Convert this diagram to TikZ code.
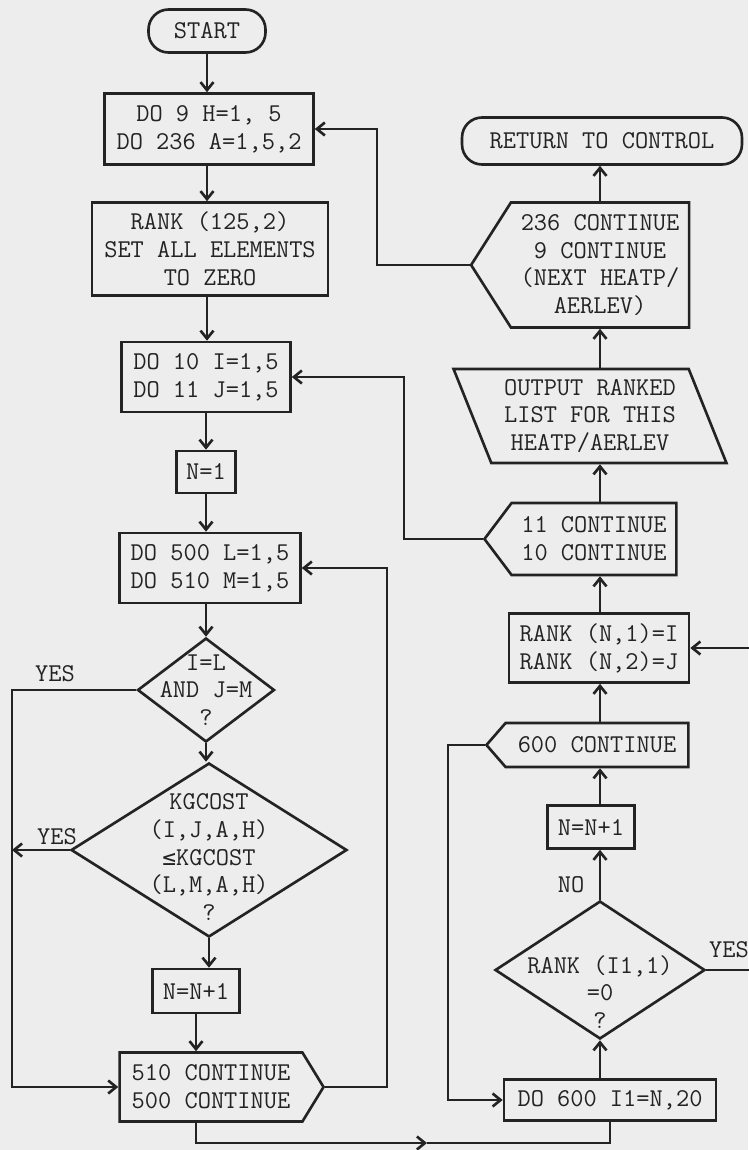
\documentclass[tikz,border=0pt]{standalone}
\usepackage{fontspec}
\newfontfamily\symfont{DejaVu Sans Mono}
\usetikzlibrary{arrows.meta,shapes.geometric,shapes.symbols}
\definecolor{paper}{RGB}{237,237,237}
\definecolor{ink}{RGB}{35,35,35}

\begin{document}
\begin{tikzpicture}[
  x=0.02cm, y=-0.02cm,
  every node/.style={font=\ttfamily\fontsize{14.6}{15.8}\selectfont, text=ink},
  terminal/.style={draw=ink, line width=1.5pt, rounded corners=0.4cm, align=center, inner sep=0pt},
  box/.style={draw=ink, line width=1.5pt, rectangle, align=center, inner sep=0pt},
  decision/.style={draw=ink, line width=1.5pt, diamond, inner sep=0pt},
  loopend/.style={draw=ink, line width=1.5pt, signal, signal from=nowhere, align=center, inner sep=0pt},
  io/.style={draw=ink, line width=1.5pt, trapezium, trapezium left angle=114, trapezium right angle=66, trapezium stretches=true, align=center, inner sep=0pt},
  txt/.style={align=center},
  arr/.style={draw=ink, -{Straight Barb[length=1.6mm,width=2.6mm]}, line width=1.5pt},
  wire/.style={draw=ink, line width=1.5pt},
]

\fill[paper] (0,0) rectangle (748,1150);
\useasboundingbox (0,0) rectangle (748,1150);

% Left column: outer loops and comparison
\node[terminal, minimum width=2.34cm, minimum height=0.86cm] (start) at (207,31) {START};
\node[box, minimum width=4.18cm, minimum height=1.42cm] (do9) at (209,129) {DO 9 H=1, 5\\DO 236 A=1,5,2};
\node[box, minimum width=4.72cm, minimum height=1.86cm] (rankinit) at (210,249) {RANK (125,2)\\SET ALL ELEMENTS\\TO ZERO};
\node[box, minimum width=3.38cm, minimum height=1.40cm] (do10) at (206,377) {DO 10 I=1,5\\DO 11 J=1,5};
\node[box, minimum width=1.18cm, minimum height=0.84cm] (n1) at (206,472) {N=1};
\node[box, minimum width=3.62cm, minimum height=1.40cm] (do500) at (210,568) {DO 500 L=1,5\\DO 510 M=1,5};
\node[decision, minimum width=2.74cm, minimum height=2.08cm] (dia1) at (206,690) {};
\node[txt] (dia1txt) at (dia1) {I=L\\AND J=M\\?};
\node[decision, minimum width=5.52cm, minimum height=3.48cm] (dia2) at (209,850) {};
\node[txt] (dia2txt) at (209,857) {KGCOST\\(I,J,A,H)\\{\symfont\fontsize{13}{15.8}\selectfont ≤}KGCOST\\(L,M,A,H)\\?};
\node[box, minimum width=1.74cm, minimum height=0.88cm] (n2) at (196,991) {N=N+1};
\node[loopend, signal to=east, signal pointer angle=117, minimum width=4.08cm, minimum height=1.38cm] (cont510) at (211,1087) {510 CONTINUE\\500 CONTINUE};

% Right column: ranking and loop ends
\node[terminal, minimum width=5.6cm, minimum height=0.94cm] (ret) at (602,141) {RETURN TO CONTROL};
\node[loopend, signal to=west, signal pointer angle=115, minimum width=4.36cm, minimum height=2.5cm] (cont236) at (600,265) {236 CONTINUE\\9 CONTINUE\\(NEXT HEATP/\\AERLEV)};
\node[io, minimum width=5.46cm, minimum height=1.88cm] (out) at (590,416) {OUTPUT RANKED\\LIST FOR THIS\\HEATP/AERLEV};
\node[loopend, signal to=west, signal pointer angle=106, minimum width=3.84cm, minimum height=1.44cm] (cont11) at (594,539) {11 CONTINUE\\10 CONTINUE};
\node[box, minimum width=3.6cm, minimum height=1.38cm] (rankn) at (599,648) {RANK (N,1)=I\\RANK (N,2)=J};
\node[loopend, signal to=west, signal pointer angle=98, minimum width=4.04cm, minimum height=0.88cm] (cont600) at (597,745) {600 CONTINUE};
\node[box, minimum width=1.74cm, minimum height=0.86cm] (n3) at (591,827) {N=N+1};
\node[decision, minimum width=4.2cm, minimum height=2.76cm] (dia3) at (600,970) {};
\node[txt] (dia3txt) at (600,992) {RANK (I1,1)\\=0\\?};
\node[box, minimum width=4.24cm, minimum height=0.82cm] (do600) at (610,1100) {DO 600 I1=N,20};

% Labels
\node (yes1) at (55,674) {YES};
\node (yes2) at (57,837) {YES};
\node (no) at (571,885) {NO};
\node (yes3) at (729,950) {YES};

% Rails
\coordinate (lrail) at (12,0);
\coordinate (rail236) at (377,0);
\coordinate (rail510) at (387,0);
\coordinate (rail11) at (404,0);
\coordinate (rail600) at (448,0);
\coordinate (rrail) at (756,0);
\coordinate (midarr) at (427,1143);

% Main flow, left
\draw[arr] (start) -- (start |- do9.north);
\draw[arr] (start |- do9.south) -- (start |- rankinit.north);
\draw[arr] (start |- rankinit.south) -- (start |- do10.north);
\draw[arr] (do10) -- (do10 |- n1.north);
\draw[arr] (n1) -- (n1 |- do500.north);
\draw[arr] (do500.south -| dia1.north) -- (dia1.north);
\draw[arr] (dia1.south) -- (dia1.south |- dia2.north);
\draw[arr] (dia2.south) -- (dia2.south |- n2.north);
\draw[arr] (n2.south) -- (n2.south |- cont510.north);

% YES branches
\draw[arr] (dia1.west) -- (dia1.west -| lrail) |- (cont510.west);
\draw[arr] (dia2.west) -- (dia2.west -| lrail);
\draw[arr] (cont510.east) -- (cont510.east -| rail510) |- (do500.east);

% To the ranking column
\draw[arr] (n2.south |- cont510.south) |- (midarr);
\draw[wire] (midarr) -| (do600.south);

% Main flow, right (upwards)
\draw[arr] (dia3.south |- do600.north) -- (dia3.south);
\draw[arr] (dia3.north) -- (dia3.north |- n3.south);
\draw[arr] (dia3.north |- n3.north) -- (dia3.north |- cont600.south);
\draw[arr] (dia3.north |- cont600.north) -- (dia3.north |- rankn.south);
\draw[arr] (dia3.north |- rankn.north) -- (dia3.north |- cont11.south);
\draw[arr] (dia3.north |- cont11.north) -- (dia3.north |- out.south);
\draw[arr] (dia3.north |- out.north) -- (dia3.north |- cont236.south);
\draw[arr] (dia3.north |- cont236.north) -- (dia3.north |- ret.south);

% Loop returns
\draw[arr] (cont600.west) -- (cont600.west -| rail600) |- (do600.west);
\draw[arr] (dia3.east) -- (dia3.east -| rrail) |- (rankn.east);
\draw[arr] (cont11.west) -- (cont11.west -| rail11) |- (do10.east);
\draw[arr] (cont236.west) -- (cont236.west -| rail236) |- (do9.east);

\end{tikzpicture}
\end{document}
